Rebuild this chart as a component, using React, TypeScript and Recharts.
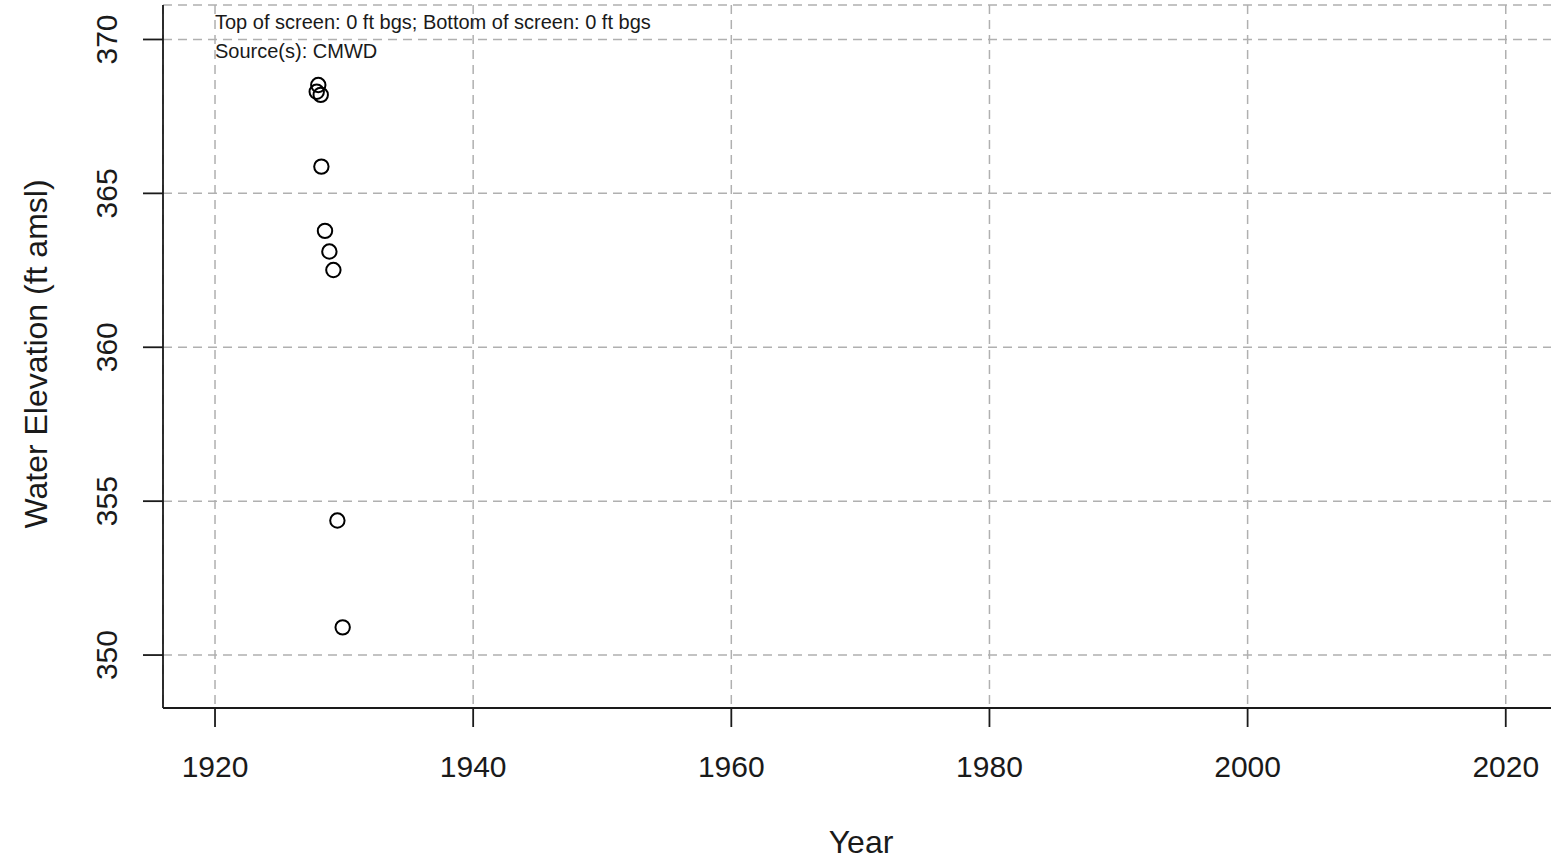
import React from 'react';
import { ScatterChart, Scatter, XAxis, YAxis, CartesianGrid, Customized } from 'recharts';

const years = [1928.0, 1927.88, 1928.19, 1928.24, 1928.52, 1928.86, 1929.17, 1929.48, 1929.89];
const elevations = [368.52, 368.3, 368.2, 365.87, 363.78, 363.11, 362.51, 354.37, 350.9];
const xTicks = [1920, 1940, 1960, 1980, 2000, 2020];
const yTicks = [350, 355, 360, 365, 370];
const annotationLines = ['Top of screen: 0 ft bgs; Bottom of screen: 0 ft bgs', 'Source(s): CMWD'];
const xLabel = 'Year';
const yLabel = 'Water Elevation (ft amsl)';

const X_DOMAIN: [number, number] = [1915.97, 2024.59];
const Y_DOMAIN: [number, number] = [348.28, 371.12];

const data = years.map((y, i) => ({ year: y, elev: elevations[i] }));

const FONT = '"Liberation Sans", Arial, Helvetica, sans-serif';
const INK = '#1a1a1a';

const XTick = (props: any) => {
  const { x, y, payload } = props;
  return (
    <text x={x} y={y + 50} textAnchor="middle" fontSize={30} fontFamily={FONT} fill={INK}>
      {payload.value}
    </text>
  );
};

const YTick = (props: any) => {
  const { x, y, payload } = props;
  return (
    <text
      transform={`translate(${x - 36.5},${y}) rotate(-90)`}
      dy="0.35em"
      textAnchor="middle"
      fontSize={30}
      fontFamily={FONT}
      fill={INK}
    >
      {payload.value}
    </text>
  );
};

const Circle = (props: any) => {
  const { cx, cy } = props;
  return <circle cx={cx} cy={cy} r={7.2} fill="none" stroke="#000" strokeWidth={2} />;
};

const Overlay = () => (
  <g>
    {annotationLines.map((t, i) => (
      <text key={i} x={215} y={29 + i * 29} fontSize={20} fontFamily={FONT} fill={INK}>
        {t}
      </text>
    ))}
    <text x={861} y={853} textAnchor="middle" fontSize={32} fontFamily={FONT} fill={INK}>
      {xLabel}
    </text>
    <text
      transform="translate(46.5,354) rotate(-90)"
      textAnchor="middle"
      fontSize={32}
      fontFamily={FONT}
      fill={INK}
    >
      {yLabel}
    </text>
  </g>
);

export default function App() {
  return (
    <div style={{ position: 'absolute', left: 0, top: 0, width: 1551, height: 861, overflow: 'hidden', background: '#fff' }}>
      <ScatterChart width={1600} height={861} margin={{ top: 5, right: 35, bottom: 0, left: 0 }}>
        <CartesianGrid stroke="#b0b0b0" strokeWidth={1.5} strokeDasharray="9 6" />
        <XAxis
          type="number"
          dataKey="year"
          domain={X_DOMAIN}
          ticks={xTicks}
          allowDataOverflow
          height={153}
          tickSize={19}
          tickMargin={0}
          tick={<XTick />}
          axisLine={{ stroke: INK, strokeWidth: 1.8 }}
          tickLine={{ stroke: INK, strokeWidth: 1.8 }}
        />
        <XAxis
          xAxisId="top"
          orientation="top"
          type="number"
          domain={X_DOMAIN}
          allowDataOverflow
          height={0}
          tick={false}
          tickLine={false}
          axisLine={{ stroke: INK, strokeWidth: 1.8 }}
        />
        <YAxis
          type="number"
          dataKey="elev"
          domain={Y_DOMAIN}
          ticks={yTicks}
          allowDataOverflow
          width={163}
          tickSize={20}
          tickMargin={0}
          tick={<YTick />}
          axisLine={{ stroke: INK, strokeWidth: 1.8 }}
          tickLine={{ stroke: INK, strokeWidth: 1.8 }}
        />
        <Scatter data={data} shape={<Circle />} isAnimationActive={false} />
        <Customized component={<Overlay />} />
      </ScatterChart>
    </div>
  );
}
